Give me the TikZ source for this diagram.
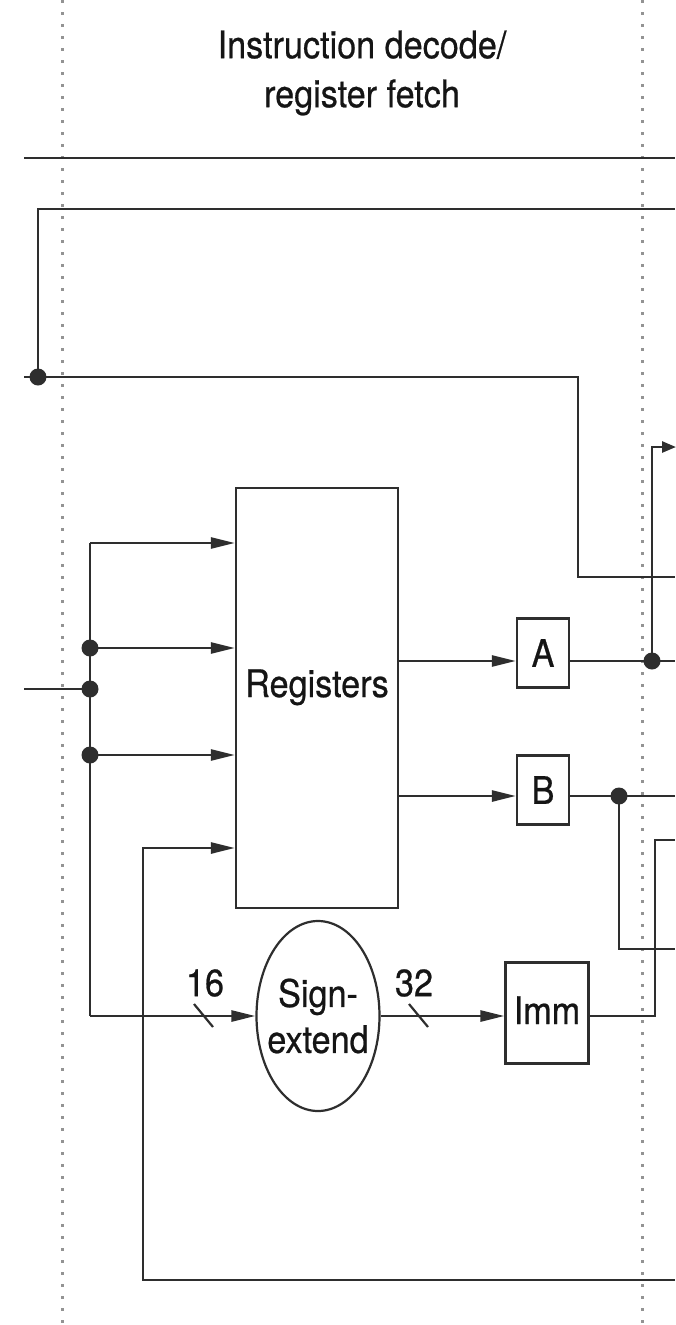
\documentclass[tikz,border=0pt]{standalone}
\usepackage{fontspec}
\setmainfont[FakeStretch=0.9,FakeBold=0.6]{TeX Gyre Heros}
\usetikzlibrary{arrows.meta,shapes.geometric}
\definecolor{ln}{HTML}{2E2E2E}
\definecolor{tx}{HTML}{151515}
\begin{document}
\begin{tikzpicture}[x=1pt,y=-1pt,
  wire/.style={draw=ln,line width=2.6pt},
  arr/.style={wire,-{Triangle[length=24pt,width=11pt]}},
  box/.style={draw=ln,line width=2.2pt,inner sep=0pt,text=tx,font=\fontsize{38}{46}\selectfont},
  dotc/.style={circle,fill=ln,minimum size=17pt,inner sep=0pt},
  lbl/.style={font=\fontsize{38}{49}\selectfont,text=tx,inner sep=0pt},
  stage/.style={draw=gray!85,line width=3pt,dash pattern=on 3pt off 9pt}]
\useasboundingbox (0,0) rectangle (675,1325);
\fill[white] (0,0) rectangle (675,1325);

% pipeline stage boundaries (dotted)
\coordinate (Lt) at (62,0);  \coordinate (Lb) at (62,1325);
\coordinate (Rt) at (642,0); \coordinate (Rb) at (642,1325);
\draw[stage] (Lt) -- (Lb);
\draw[stage] (Rt) -- (Rb);

% title
\node[lbl,align=center] (title) at (362,73) {Instruction decode/\\register fetch};
\coordinate (hrL) at (24,158); \coordinate (hrR) at (675,158);
\draw[wire] (hrL) -- (hrR);

% blocks
\node[box,minimum width=162pt,minimum height=420pt,text height=26pt,text depth=28pt] (reg) at (317,698) {Registers};
\node[box,minimum width=52pt,minimum height=69pt] (A) at (543,653) {A};
\node[box,minimum width=52pt,minimum height=69pt] (B) at (543,790) {B};
\node[box,minimum width=83pt,minimum height=101pt,text height=26pt,text depth=4pt] (imm) at (547,1013) {Imm};
\node[box,ellipse,inner xsep=-8pt,minimum width=123pt,minimum height=190pt,align=center] (se) at (318,1016) {Sign-\\extend};

% top feedback path
\coordinate (t1) at (675,209); \coordinate (t2) at (38,209);
\node[dotc] (dTL) at (38,377) {};
\draw[wire] (t1) -- (t2) -- (dTL.center);
\coordinate (f0) at (24,377); \coordinate (f1) at (578,377);
\coordinate (f2) at (578,577); \coordinate (f3) at (675,577);
\draw[wire] (f0) -- (f1) -- (f2) -- (f3);

% instruction bus on the left
\coordinate (in0) at (24,689);
\node[dotc] (dIn) at (90,689) {};
\draw[wire] (in0) -- (dIn.center);
\coordinate (bTop) at (90,543);
\coordinate (bBot) at (90,1016);
\node[dotc] (d1) at (90,648) {};
\node[dotc] (d2) at (90,755) {};
\draw[wire] (bTop) -- (bBot);
\draw[arr] (bTop) -- (reg.west |- bTop);
\draw[arr] (d1.center) -- (reg.west |- d1);
\draw[arr] (d2.center) -- (reg.west |- d2);
\draw[arr] (bBot) -- (se.west);

% bus width marks
\coordinate (s16a) at (194,1004); \coordinate (s16b) at (213,1027);
\draw[draw=ln,line width=2.2pt] (s16a) -- (s16b);
\node[lbl] (n16) at (205,983) {16};
\coordinate (s32a) at (409,1004); \coordinate (s32b) at (428,1027);
\draw[draw=ln,line width=2.2pt] (s32a) -- (s32b);
\node[lbl] (n32) at (414,983) {32};
\draw[arr] (se.east) -- (imm.west |- se.east);

% register outputs
\coordinate (ya) at (0,661);
\coordinate (yb) at (0,796);
\draw[arr] (reg.east |- ya) -- (A.west |- ya);
\draw[arr] (reg.east |- yb) -- (B.west |- yb);

% A output
\node[dotc] (dA) at (652,661) {};
\coordinate (aR) at (675,661);
\draw[wire] (A.east |- ya) -- (aR);
\coordinate (aUp) at (652,447); \coordinate (aArr) at (676,447);
\draw[wire,-{Triangle[length=14pt,width=11pt]}] (dA.center) -- (aUp) -- (aArr);

% B output
\node[dotc] (dB) at (619,796) {};
\coordinate (bR) at (675,796);
\draw[wire] (B.east |- yb) -- (bR);
\coordinate (bDn) at (619,949); \coordinate (bDnR) at (675,949);
\draw[wire] (dB.center) -- (bDn) -- (bDnR);

% Imm output
\coordinate (i1) at (655,1016); \coordinate (i2) at (655,840); \coordinate (i3) at (675,840);
\draw[wire] (imm.east |- i1) -- (i1) -- (i2) -- (i3);

% bottom write-back path
\coordinate (w0) at (675,1280); \coordinate (w1) at (143,1280); \coordinate (w2) at (143,848);
\draw[arr] (w0) -- (w1) -- (w2) -- (reg.west |- w2);
\end{tikzpicture}
\end{document}
